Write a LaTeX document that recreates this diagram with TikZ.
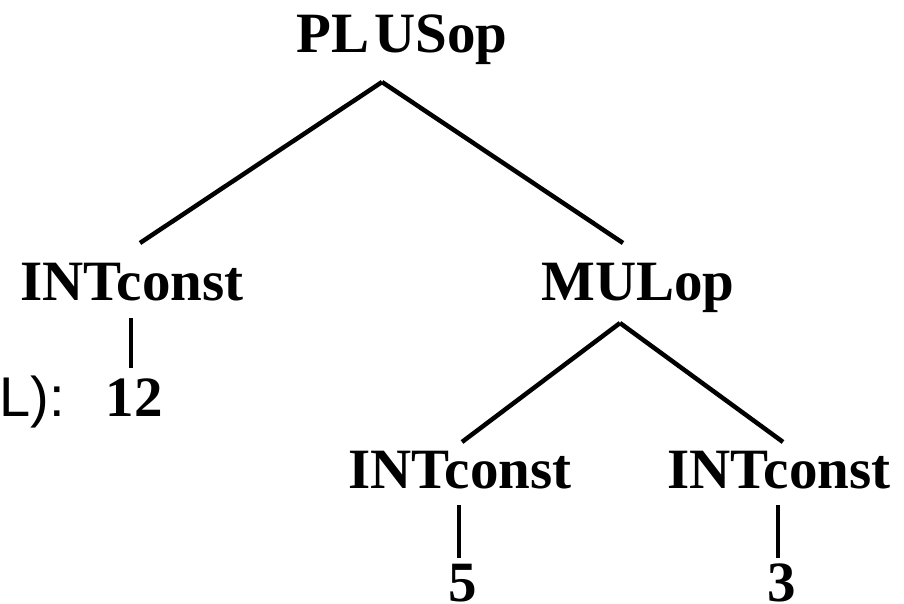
\documentclass[tikz,border=0pt]{standalone}
\usepackage{fontspec}
\setmainfont{Liberation Serif}
\newfontfamily\labelsans{Liberation Sans}
\begin{document}
\begin{tikzpicture}[x=1pt,y=-1pt,
  treenode/.style={inner sep=0pt,anchor=base,font=\fontsize{57}{60}\selectfont\bfseries},
  edge/.style={line width=4.5pt,line join=miter}]
\useasboundingbox (0,0) rectangle (904,604);
% nodes of the expression tree
\node[treenode] (plus) at (402,53) {PL\kern5pt USop};
\node[treenode] (int1) at (132,300) {INTconst};
\node[treenode] (mul)  at (638,300) {MULop};
\node[treenode] (int2) at (460,488) {INTconst};
\node[treenode] (int3) at (779,488) {INTconst};
\node[treenode] (v12)  at (134,416) {12};
\node[treenode] (v5)   at (463,601) {5};
\node[treenode] (v3)   at (782,601) {3};
\node[inner sep=0pt,anchor=base east,font=\fontsize{56}{58}\selectfont\labelsans] (lbl) at (65,416) {L):};
% branches
\draw[edge] ([xshift=-20pt,yshift=-29pt]plus.base) -- ([xshift=8pt,yshift=57pt]int1.base);
\draw[edge] ([xshift=-20pt,yshift=-29pt]plus.base) -- ([xshift=-15pt,yshift=57pt]mul.base);
\draw[edge] ([xshift=-18pt,yshift=-23pt]mul.base) -- ([xshift=2pt,yshift=46pt]int2.base);
\draw[edge] ([xshift=-18pt,yshift=-23pt]mul.base) -- ([xshift=4pt,yshift=46pt]int3.base);
% leaf links
\draw[edge] ([xshift=-1pt,yshift=-18pt]int1.base) -- ([xshift=-3pt,yshift=48pt]v12.base);
\draw[edge] ([xshift=-1pt,yshift=-17pt]int2.base) -- ([xshift=-4pt,yshift=43pt]v5.base);
\draw[edge] ([xshift=-1pt,yshift=-17pt]int3.base) -- ([xshift=-4pt,yshift=43pt]v3.base);
\end{tikzpicture}
\end{document}
